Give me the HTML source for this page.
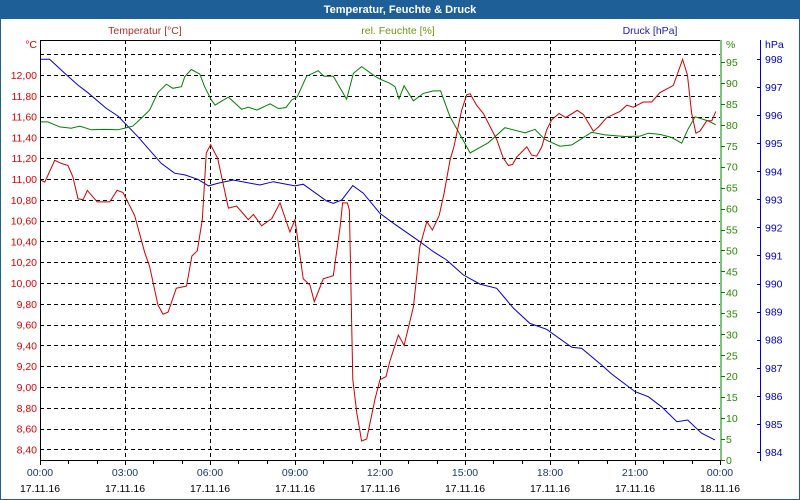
<!DOCTYPE html>
<html><head><meta charset="utf-8">
<style>
html,body{margin:0;padding:0;background:#fff;}
#wrap{position:relative;width:800px;height:500px;overflow:hidden;font-family:"Liberation Sans",sans-serif;}
svg text{font-family:"Liberation Sans",sans-serif;font-size:10.5px;}
</style></head>
<body>
<div id="wrap">
<svg id="chart" width="800" height="500" xmlns="http://www.w3.org/2000/svg">
  <rect x="0" y="0" width="800" height="500" fill="#ffffff"/>
  <rect x="0" y="0" width="800" height="19" fill="#1d5f96"/>
  <text x="400" y="13" text-anchor="middle" fill="#ffffff" font-weight="bold" style="font-size:11px">Temperatur, Feuchte &amp; Druck</text>
  <rect x="0.5" y="0.5" width="799" height="499" fill="none" stroke="#1d5f96" stroke-width="1"/>
  <text x="145" y="34" text-anchor="middle" fill="#b03030">Temperatur [°C]</text>
  <text x="398" y="34" text-anchor="middle" fill="#6a9a10">rel. Feuchte [%]</text>
  <text x="650" y="34" text-anchor="middle" fill="#2020c0">Druck [hPa]</text>
  <g id="grid"></g>
  <g id="axes"></g>
  <g id="series"></g>
</svg>
</div>
<script>
// ---- data ----
const tempHours = [0.02,0.17,0.52,0.75,0.99,1.16,1.34,1.52,1.67,2.02,2.46,2.72,2.93,3.34,3.70,3.87,4.16,4.34,4.52,4.81,5.17,5.36,5.55,5.73,5.87,6.02,6.27,6.65,6.94,7.35,7.53,7.82,8.18,8.47,8.82,9.00,9.29,9.53,9.68,10.00,10.35,10.59,10.68,10.85,10.92,11.04,11.18,11.35,11.53,11.82,12.00,12.21,12.35,12.65,12.85,13.18,13.41,13.65,13.85,14.09,14.26,14.47,14.61,14.88,15.06,15.18,15.41,15.65,16.12,16.35,16.53,16.68,16.82,17.18,17.35,17.53,17.71,17.88,18.06,18.32,18.55,18.96,19.18,19.53,19.71,20.00,20.47,20.71,20.94,21.29,21.59,21.88,22.35,22.68,22.85,23.00,23.15,23.29,23.53,23.71,23.85];
const tempValues = [10.99,10.97,11.18,11.15,11.13,11.02,10.81,10.80,10.89,10.78,10.78,10.89,10.87,10.65,10.29,10.16,9.79,9.70,9.72,9.95,9.97,10.26,10.31,10.61,11.25,11.33,11.20,10.72,10.74,10.61,10.66,10.55,10.62,10.77,10.49,10.61,10.04,9.98,9.82,10.04,10.07,10.54,10.77,10.77,10.70,9.07,8.75,8.48,8.50,8.88,9.07,9.10,9.25,9.50,9.40,9.77,10.35,10.59,10.51,10.65,10.86,11.18,11.31,11.66,11.81,11.82,11.71,11.63,11.38,11.20,11.13,11.14,11.21,11.31,11.23,11.22,11.31,11.47,11.57,11.63,11.59,11.66,11.62,11.46,11.50,11.59,11.65,11.71,11.69,11.74,11.74,11.83,11.90,12.15,12.00,11.63,11.44,11.46,11.56,11.56,11.65];
const humHours = [0.02,0.28,0.70,1.10,1.40,1.81,2.28,2.75,3.28,3.58,3.87,4.16,4.46,4.69,4.99,5.11,5.34,5.64,5.81,6.05,6.18,6.65,7.12,7.35,7.65,8.12,8.41,8.68,8.88,9.08,9.41,9.82,10.02,10.35,10.82,11.06,11.35,11.82,12.00,12.35,12.53,12.67,12.85,13.18,13.53,13.88,14.14,14.47,14.73,15.18,15.82,16.41,17.12,17.47,17.82,18.35,18.77,19.47,19.94,20.65,21.18,21.47,21.88,22.29,22.65,22.86,23.12,23.59,23.85];
const humValues = [80.7,80.7,79.5,79.2,79.7,78.8,78.9,78.8,79.7,81.6,83.5,87.7,89.7,88.7,89.1,91.5,93.2,92.1,89.1,85.9,84.7,86.6,83.7,84.2,83.5,85.0,83.9,84.1,85.9,86.7,91.6,92.9,91.6,91.6,86.1,92.3,93.9,91.6,90.9,89.9,89.1,86.2,89.3,85.7,87.5,88.1,88.1,81.9,78.8,73.3,75.7,79.3,78.1,78.9,76.5,74.9,75.2,78.2,77.6,77.2,77.3,78.0,77.7,77.0,75.6,78.8,81.9,80.9,80.0];
const presHours = [0.02,0.34,0.87,1.34,1.69,2.34,2.75,3.46,4.28,4.75,5.11,5.58,5.95,6.26,6.82,7.76,8.23,9.00,9.29,10.12,10.35,10.65,11.04,11.41,12.00,12.47,13.41,13.88,14.35,14.94,15.53,16.12,16.71,17.29,17.88,18.77,19.12,19.82,20.17,21.00,21.47,21.94,22.48,22.86,23.35,23.82];
const presValues = [997.99,997.99,997.49,997.07,996.80,996.24,995.97,995.23,994.28,993.93,993.87,993.71,993.48,993.57,993.69,993.51,993.63,993.48,993.54,992.94,992.86,992.98,993.49,993.22,992.50,992.15,991.49,991.14,990.84,990.31,989.98,989.83,989.12,988.58,988.37,987.73,987.69,987.10,986.78,986.15,985.97,985.61,985.08,985.14,984.67,984.43];
const tempTicks = [8.4,8.6,8.8,9.0,9.2,9.4,9.6,9.8,10.0,10.2,10.4,10.6,10.8,11.0,11.2,11.4,11.6,11.8,12.0];
const humTicks = [0,5,10,15,20,25,30,35,40,45,50,55,60,65,70,75,80,85,90,95];
const presTicks = [984,985,986,987,988,989,990,991,992,993,994,995,996,997,998];
const timeTickLabels = ["00:00","03:00","06:00","09:00","12:00","15:00","18:00","21:00","00:00"];
const dateTickLabels = ["17.11.16","17.11.16","17.11.16","17.11.16","17.11.16","17.11.16","17.11.16","17.11.16","18.11.16"];

// ---- scales ----
const L=40, R=720, T=40, B=460;
const xS = h => L + h*(R-L)/24;
const yT = v => 75 + (12.0 - v)*104;
const yH = v => 460 - v*4.19;
const yP = v => 59 + (998 - v)*28.07;

const NS="http://www.w3.org/2000/svg";
function mk(tag, parent, attrs){const e=document.createElementNS(NS,tag);for(const k in attrs)e.setAttribute(k,attrs[k]);parent.appendChild(e);return e;}
const grid=document.getElementById('grid'), axes=document.getElementById('axes'), series=document.getElementById('series');

// horizontal grid
const gridLevels = tempTicks.concat([12.2]);
gridLevels.forEach(v=>{
  const y=Math.round(yT(v))+0.5;
  const l=mk('line',grid,{x1:L,x2:R,y1:y,y2:y,stroke:'#000','stroke-width':1,'stroke-dasharray':'4,3'});
  
  
});
// vertical grid
for(let h=3;h<24;h+=3){
  const x=Math.round(xS(h))+0.5;
  const l=mk('line',grid,{x1:x,x2:x,y1:T,y2:B,stroke:'#000','stroke-width':1,'stroke-dasharray':'4,3'});
  
  
}
// frame lines
let a;
a=mk('line',axes,{x1:L+0.5,x2:L+0.5,y1:T,y2:B+1,stroke:'#000'});


a=mk('line',axes,{x1:L,x2:R,y1:T+0.5,y2:T+0.5,stroke:'#000'});


a=mk('line',axes,{x1:L,x2:R+1,y1:B+0.5,y2:B+0.5,stroke:'#000'});


a=mk('line',axes,{x1:R+1,x2:R+1,y1:T,y2:B+1,stroke:'#008000'});


a=mk('line',axes,{x1:760.5,x2:760.5,y1:T,y2:B+1,stroke:'#0000c0'});



// temp labels
tempTicks.forEach(v=>{
  const t=mk('text',axes,{x:37,y:yT(v)+4,'text-anchor':'end',fill:'#e00000'});
  t.textContent=v.toFixed(2).replace('.',',');
  
  
});
a=mk('text',axes,{x:37,y:48,'text-anchor':'end',fill:'#e00000'});a.textContent='°C';


// humidity
humTicks.forEach(v=>{
  const y=Math.round(yH(v))+0.5;
  const tk=mk('line',axes,{x1:R+1,x2:R+5,y1:y,y2:y,stroke:'#008000'});
  
  
  const t=mk('text',axes,{x:726,y:yH(v)+4,fill:'#2a8a00'});
  t.textContent=String(v);
  
  
});
a=mk('text',axes,{x:726,y:48,fill:'#2a8a00'});a.textContent='%';


// pressure
presTicks.forEach(v=>{
  const y=Math.round(yP(v))+0.5;
  const tk=mk('line',axes,{x1:757,x2:761,y1:y,y2:y,stroke:'#0000c0'});
  
  
  const t=mk('text',axes,{x:765,y:yP(v)+4,fill:'#0000c0'});
  t.textContent=String(v);
  
  
});
a=mk('text',axes,{x:765,y:48,fill:'#0000c0'});a.textContent='hPa';


// x ticks
for(let h=0;h<=24;h++){
  const x=Math.round(xS(h))+0.5;
  const tk=mk('line',axes,{x1:x,x2:x,y1:B,y2:B+(h%3===0?5:4),stroke:'#000'});
  
  
}
timeTickLabels.forEach((s,i)=>{
  const t=mk('text',axes,{x:xS(i*3),y:476,'text-anchor':'middle',fill:'#1a3a70'});
  t.textContent=s;
  
  
});
dateTickLabels.forEach((s,i)=>{
  const t=mk('text',axes,{x:xS(i*3),y:492,'text-anchor':'middle',fill:'#000'});
  t.textContent=s;
  
  
});

// series
function pts(hs,vs,yf){return hs.map((h,i)=>xS(h).toFixed(1)+','+yf(vs[i]).toFixed(1)).join(' ');}
let p;
p=mk('polyline',series,{points:pts(presHours,presValues,yP),fill:'none',stroke:'#0000d0','stroke-width':1});


p=mk('polyline',series,{points:pts(humHours,humValues,yH),fill:'none',stroke:'#008000','stroke-width':1});


p=mk('polyline',series,{points:pts(tempHours,tempValues,yT),fill:'none',stroke:'#d00000','stroke-width':1});


</script>
</body></html>
